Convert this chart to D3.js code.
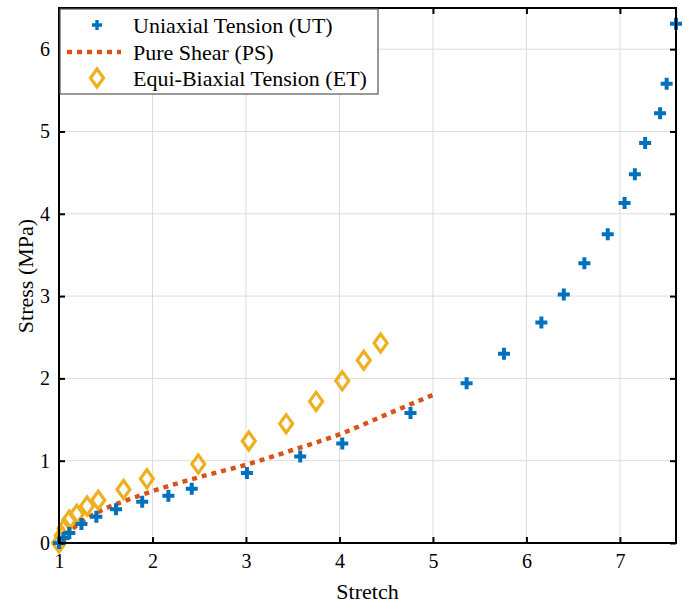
<!DOCTYPE html>
<html>
<head>
<meta charset="utf-8">
<script src="https://cdn.jsdelivr.net/npm/d3@7"></script>
<style>
  body { margin: 0; background: #fff; }
  text { font-family: "Times New Roman", "Liberation Serif", serif; fill: #000; }
</style>
</head>
<body>
<script>
// chart data
const utStretch = [1, 1.05, 1.11, 1.24, 1.40, 1.61, 1.89, 2.17, 2.42, 3.01, 3.58, 4.03, 4.76, 5.36, 5.76, 6.16, 6.40, 6.62, 6.87, 7.05, 7.16, 7.27, 7.43, 7.50, 7.60];
const utStress = [0, 0.06, 0.12, 0.23, 0.32, 0.41, 0.50, 0.575, 0.66, 0.85, 1.05, 1.21, 1.58, 1.94, 2.30, 2.68, 3.02, 3.40, 3.75, 4.13, 4.48, 4.86, 5.22, 5.58, 6.31];

const psStretch = [1, 1.1, 1.2, 1.3, 1.5, 1.75, 2, 2.5, 3, 3.5, 4, 4.5, 5];
const psStress = [0, 0.13, 0.22, 0.30, 0.42, 0.53, 0.63, 0.80, 0.95, 1.13, 1.32, 1.56, 1.80];

const etStretch = [1, 1.03, 1.06, 1.11, 1.19, 1.30, 1.42, 1.69, 1.94, 2.49, 3.03, 3.43, 3.75, 4.03, 4.26, 4.44];
const etStress = [0, 0.09, 0.18, 0.28, 0.35, 0.45, 0.52, 0.65, 0.78, 0.96, 1.24, 1.45, 1.72, 1.97, 2.22, 2.43];

const xTicks = [1, 2, 3, 4, 5, 6, 7];
const yTicks = [0, 1, 2, 3, 4, 5, 6];
const legendLabels = ["Uniaxial Tension (UT)", "Pure Shear (PS)", "Equi-Biaxial Tension (ET)"];

const colUT = "#0072BD", colPS = "#D95319", colET = "#EDB120";
const serif = "'Times New Roman', 'Liberation Serif', serif";

const width = 683, height = 604;
const margin = { top: 8, right: 7, bottom: 61, left: 59 };
const w = width - margin.left - margin.right;
const h = height - margin.top - margin.bottom;

const svg = d3.select("body").append("svg")
    .attr("width", width)
    .attr("height", height)
    .style("font-family", serif);

const x = d3.scaleLinear().domain([1, 7.6]).range([0, w]);
const y = d3.scaleLinear().domain([0, 6.5]).range([h, 0]);

const g = svg.append("g").attr("transform", `translate(${margin.left},${margin.top})`);

// grid
g.append("g").selectAll("line").data(xTicks).enter().append("line")
    .attr("x1", d => x(d)).attr("x2", d => x(d)).attr("y1", 0).attr("y2", h)
    .attr("stroke", "#dcdcdc").attr("stroke-width", 1);
g.append("g").selectAll("line").data(yTicks).enter().append("line")
    .attr("y1", d => y(d)).attr("y2", d => y(d)).attr("x1", 0).attr("x2", w)
    .attr("stroke", "#dcdcdc").attr("stroke-width", 1);

// PS dotted line
const line = d3.line().x(d => x(d[0])).y(d => y(d[1])).curve(d3.curveMonotoneX);
g.append("path")
    .datum(psStretch.map((s, i) => [s, psStress[i]]))
    .attr("d", line)
    .attr("fill", "none")
    .attr("stroke", colPS)
    .attr("stroke-width", 4.5)
    .attr("stroke-dasharray", "5,5");

const plusPath = "M-6,0H6M0,-6V6";
const diamondPath = "M0,-9L6.5,0L0,9L-6.5,0Z";

// ET diamonds
g.append("g").selectAll("path").data(etStretch).enter().append("path")
    .attr("transform", (d, i) => `translate(${x(d)},${y(etStress[i])})`)
    .attr("d", diamondPath)
    .attr("fill", "none").attr("stroke", colET).attr("stroke-width", 3.2);

// UT pluses
g.append("g").selectAll("path").data(utStretch).enter().append("path")
    .attr("transform", (d, i) => `translate(${x(d)},${y(utStress[i])})`)
    .attr("d", plusPath)
    .attr("fill", "none").attr("stroke", colUT).attr("stroke-width", 4);

// axes (ticks inward, box with ticks on all four sides)
const tickLen = 6;
const fmt = d3.format("d");
const axB = g.append("g").attr("transform", `translate(0,${h})`)
    .call(d3.axisBottom(x).tickValues(xTicks).tickSize(-tickLen).tickPadding(11).tickFormat(fmt));
const axT = g.append("g")
    .call(d3.axisTop(x).tickValues(xTicks).tickSize(-tickLen).tickFormat(""));
const axL = g.append("g")
    .call(d3.axisLeft(y).tickValues(yTicks).tickSize(-tickLen).tickPadding(9).tickFormat(fmt));
const axR = g.append("g").attr("transform", `translate(${w},0)`)
    .call(d3.axisRight(y).tickValues(yTicks).tickSize(-tickLen).tickFormat(""));
[axB, axT, axL, axR].forEach(a => {
  a.attr("font-family", serif).attr("font-size", 20);
  a.select(".domain").remove();
  a.selectAll(".tick line").attr("stroke", "#000").attr("stroke-width", 2);
  a.selectAll("text").attr("fill", "#000");
});
g.append("rect").attr("x", 0).attr("y", 0).attr("width", w).attr("height", h)
    .attr("fill", "none").attr("stroke", "#000").attr("stroke-width", 2);

// axis labels
svg.append("text")
    .attr("x", margin.left + w / 2).attr("y", 599)
    .attr("text-anchor", "middle").style("font-size", "22px").text("Stretch");
svg.append("text")
    .attr("transform", "translate(33,276) rotate(-90)")
    .attr("text-anchor", "middle").style("font-size", "22px").text("Stress (MPa)");

// legend
const leg = svg.append("g").attr("transform", "translate(60,9)");
leg.append("rect").attr("width", 318).attr("height", 85)
    .attr("fill", "#fff").attr("stroke", "#555").attr("stroke-width", 1.2);
const rowsY = [16, 43, 69];
leg.append("path").attr("transform", `translate(37,${rowsY[0]}) scale(0.85)`)
    .attr("d", plusPath).attr("stroke", colUT).attr("stroke-width", 4).attr("fill", "none");
leg.append("line").attr("x1", 7).attr("x2", 61).attr("y1", rowsY[1]).attr("y2", rowsY[1])
    .attr("stroke", colPS).attr("stroke-width", 4.5).attr("stroke-dasharray", "5,5");
leg.append("path").attr("transform", `translate(37,${rowsY[2]})`)
    .attr("d", diamondPath).attr("stroke", colET).attr("stroke-width", 3.2).attr("fill", "none");
leg.selectAll("text.lbl").data(legendLabels).enter().append("text")
    .attr("class", "lbl")
    .attr("x", 73).attr("y", (d, i) => rowsY[i] + 8)
    .style("font-size", "22px").text(d => d);
</script>
</body>
</html>
